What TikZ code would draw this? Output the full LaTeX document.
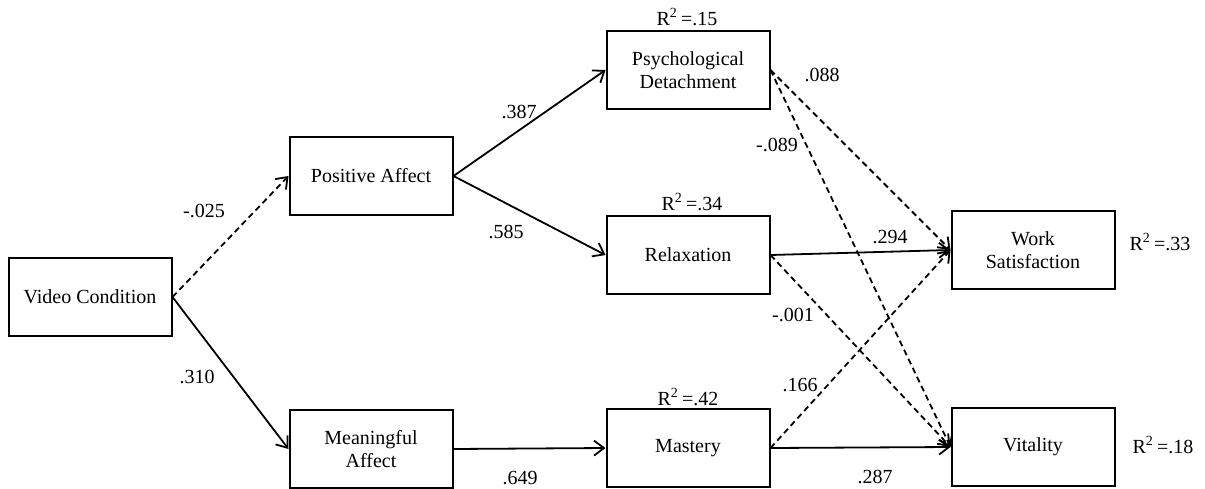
\documentclass[tikz,border=0pt]{standalone}
\usepackage{fontspec}
\setmainfont{Liberation Serif}
\usetikzlibrary{arrows.meta}

\begin{document}
\begin{tikzpicture}[x=0.5pt,y=-0.5pt,>={Straight Barb[length=5pt,width=7.5pt]},font=\fontsize{10}{11.5}\selectfont,
  var/.style={draw,line width=1pt,minimum width=81.5pt,minimum height=39pt,inner sep=0pt,align=center},
  sig/.style={->,line width=0.9pt},
  nsig/.style={sig,dash pattern=on 3pt off 2pt}]
  \useasboundingbox (0,0) rectangle (1205,488);
  % variables
  \node[var] (vc) at (90,297) {Video Condition};
  \node[var] (pa) at (371,176) {Positive Affect};
  \node[var] (ma) at (371,449) {Meaningful\\Affect};
  \node[var] (pd) at (688,70) {Psychological\\Detachment};
  \node[var] (rx) at (688,255) {Relaxation};
  \node[var] (ms) at (688,448) {Mastery};
  \node[var] (ws) at (1033,250) {Work\\Satisfaction};
  \node[var] (vt) at (1033,447) {Vitality};
  % explained variance
  \node (r2pd) at (687,17) {R\textsuperscript{2}\,=.15};
  \node (r2rx) at (692,202) {R\textsuperscript{2}\,=.34};
  \node (r2ms) at (688,397) {R\textsuperscript{2}\,=.42};
  \node (r2ws) at (1160,242) {R\textsuperscript{2}\,=.33};
  \node (r2vt) at (1163,445) {R\textsuperscript{2}\,=.18};
  % paths
  \draw[nsig] (vc.east) -- (pa.west);
  \draw[sig] (vc.east) -- (ma.west);
  \draw[sig] (pa.east) -- (pd.west);
  \draw[sig] (pa.east) -- (rx.west);
  \draw[sig] (ma.east) -- (ms.west);
  \draw[nsig] (pd.east) -- (ws.west);
  \draw[nsig] (pd.east) -- (vt.west);
  \draw[sig] (rx.east) -- (ws.west);
  \draw[nsig] (rx.east) -- (vt.west);
  \draw[nsig] (ms.east) -- (ws.west);
  \draw[sig] (ms.east) -- (vt.west);
  % coefficients
  \node (c1) at (204,211) {-.025};
  \node (c2) at (197,377) {.310};
  \node (c3) at (519,112) {.387};
  \node (c4) at (506,232) {.585};
  \node (c5) at (520,478) {.649};
  \node (c6) at (822,75) {.088};
  \node (c7) at (777,145) {-.089};
  \node (c8) at (890,237) {.294};
  \node (c9) at (793,315) {-.001};
  \node (c10) at (800,385) {.166};
  \node (c11) at (875,477) {.287};
\end{tikzpicture}
\end{document}
